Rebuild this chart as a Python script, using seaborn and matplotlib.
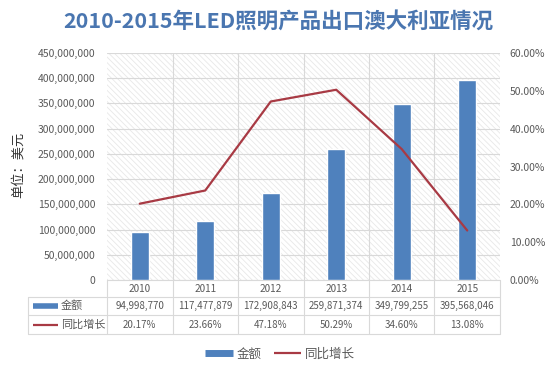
import matplotlib
matplotlib.use("Agg")
import matplotlib.pyplot as plt
import matplotlib.transforms as mtransforms
from matplotlib.lines import Line2D
import pandas as pd
import seaborn as sns

# === data ===
years = ["2010", "2011", "2012", "2013", "2014", "2015"]
amount = [94998770, 117477879, 172908843, 259871374, 349799255, 395568046]
growth = [20.17, 23.66, 47.18, 50.29, 34.60, 13.08]
amount_labels = ["94,998,770", "117,477,879", "172,908,843", "259,871,374", "349,799,255", "395,568,046"]
growth_labels = ["20.17%", "23.66%", "47.18%", "50.29%", "34.60%", "13.08%"]

df = pd.DataFrame({"year": years, "amount": amount, "growth": growth})

sns.set_style("white")
plt.rcParams['font.family'] = ['Noto Sans CJK SC', 'DejaVu Sans']
plt.rcParams['hatch.linewidth'] = 0.6

bar_color = "#4f81bd"
line_color = "#a83a44"
text_color = "#595959"
grid_color = "#d9d9d9"

W, H = 554, 370
fig = plt.figure(figsize=(W / 100, H / 100), dpi=100)
# plot area: x 107..500, y 53..280 (pixels)
ax = fig.add_axes([107 / W, 1 - 280 / H, (500 - 107) / W, (280 - 53) / H])

# hatched background
ax.patch.set_facecolor("white")
ax.patch.set_hatch("\\\\\\\\\\\\")
ax.patch.set_edgecolor("#e8e8e8")
ax.patch.set_linewidth(0)

sns.barplot(data=df, x="year", y="amount", color=bar_color, width=0.28,
            saturation=1, ax=ax, zorder=3)
ax.set_ylim(0, 450000000)
ax.set_yticks(range(0, 450000001, 50000000))
ax.set_yticklabels(["0" if v == 0 else f"{v:,}" for v in range(0, 450000001, 50000000)],
                   fontsize=7.5, color=text_color)
ax.set_xlim(-0.5, 5.5)
ax.set_xticks([])
ax.set_xlabel("")
ax.set_ylabel("单位：美元", fontsize=9.5, color="#333333")
ax.yaxis.set_label_coords(-(107 - 25) / 393, (280 - 165) / 227)
ax.tick_params(axis="y", length=0, pad=8.5)
ax.grid(axis="y", color=grid_color, linewidth=0.8, zorder=1)
for b in [0.5, 1.5, 2.5, 3.5, 4.5]:
    ax.axvline(b, color=grid_color, linewidth=0.8, zorder=1)
for s in ax.spines.values():
    s.set_visible(False)

ax2 = ax.twinx()
sns.pointplot(data=df, x="year", y="growth", color=line_color, markers="",
              linewidth=1.6, ax=ax2)
ax2.set_ylim(0, 60)
ax2.set_xlim(-0.5, 5.5)
ax2.set_yticks(range(0, 61, 10))
ax2.set_yticklabels([f"{v:.2f}%" for v in range(0, 61, 10)], fontsize=7.5, color=text_color)
ax2.tick_params(axis="y", length=0, pad=7)
ax2.set_ylabel("")
ax2.set_xlabel("")
for s in ax2.spines.values():
    s.set_visible(False)

# === data table below the plot ===
tr = mtransforms.blended_transform_factory(ax.transData, fig.transFigure)
row_y = [1 - 280 / H, 1 - 297 / H, 1 - 315 / H, 1 - 334 / H]
left_fig = 28 / W
right_fig = 500 / W
tcol = "#d9d9d9"
ax.plot([-0.5, 5.5], [row_y[0], row_y[0]], transform=tr, color=tcol, lw=0.8, clip_on=False)
for y in row_y[1:]:
    fig.add_artist(Line2D([left_fig, right_fig], [y, y], color=tcol, lw=0.8))
for b in [-0.5, 0.5, 1.5, 2.5, 3.5, 4.5, 5.5]:
    ax.plot([b, b], [row_y[0], row_y[3]], transform=tr, color=tcol, lw=0.8, clip_on=False)
fig.add_artist(Line2D([left_fig, left_fig], [row_y[1], row_y[3]], color=tcol, lw=0.8))

for i in range(len(years)):
    ax.text(i, (row_y[0] + row_y[1]) / 2, years[i], transform=tr, ha="center", va="center",
            fontsize=7.2, color=text_color)
    ax.text(i, (row_y[1] + row_y[2]) / 2, amount_labels[i], transform=tr, ha="center",
            va="center", fontsize=7, color=text_color)
    ax.text(i, (row_y[2] + row_y[3]) / 2, growth_labels[i], transform=tr, ha="center",
            va="center", fontsize=7, color=text_color)

ym1 = (row_y[1] + row_y[2]) / 2
ym2 = (row_y[2] + row_y[3]) / 2
fig.add_artist(Line2D([33 / W, 58 / W], [ym1, ym1], color=bar_color, lw=4, solid_capstyle="butt"))
fig.add_artist(Line2D([33 / W, 58 / W], [ym2, ym2], color=line_color, lw=1.6, solid_capstyle="butt"))
fig.text(61 / W, ym1, "金额", ha="left", va="center", fontsize=8, color=text_color)
fig.text(61 / W, ym2, "同比增长", ha="left", va="center", fontsize=8, color=text_color)

# === legend ===
handles = [Line2D([], [], color=bar_color, lw=5, solid_capstyle="butt"),
           Line2D([], [], color=line_color, lw=1.6, solid_capstyle="butt")]
fig.legend(handles, ["金额", "同比增长"], loc="center", bbox_to_anchor=(280 / W, 1 - 354 / H),
           ncol=2, frameon=False, fontsize=9, handlelength=2.2, columnspacing=1.0,
           handletextpad=0.3, labelcolor=text_color)

# === title ===
fig.text(278 / W, 1 - 22 / H, "2010-2015年LED照明产品出口澳大利亚情况", ha="center", va="center",
         fontsize=15.5, fontweight="bold", color="#4a76b0")

fig.savefig("out.png", dpi=100)
